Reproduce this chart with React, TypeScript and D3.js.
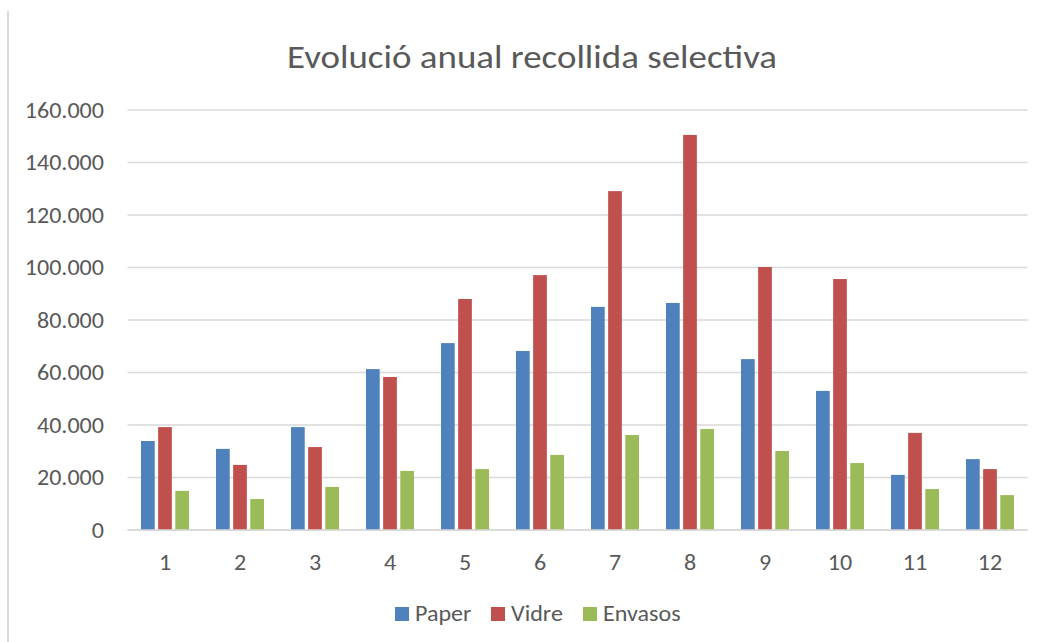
import React from "react";
import * as d3 from "d3";

const months = ["1", "2", "3", "4", "5", "6", "7", "8", "9", "10", "11", "12"];
const seriesNames = ["Paper", "Vidre", "Envasos"];
const paper = [33900, 30900, 39200, 61300, 71200, 68200, 85000, 86500, 65100, 53000, 21000, 27000];
const vidre = [39200, 24800, 31600, 58300, 88000, 97100, 129100, 150500, 100200, 95600, 37000, 23200];
const envasos = [14900, 11800, 16400, 22500, 23200, 28600, 36200, 38500, 30100, 25500, 15600, 13300];
const yTicks = [0, 20000, 40000, 60000, 80000, 100000, 120000, 140000, 160000];
const colors = ["#4f81bd", "#c0504d", "#9bbb59"];
const title = "Evolució anual recollida selectiva";

const W = 1046;
const H = 642;
const FONT = "Carlito, Calibri, 'Liberation Sans Narrow', 'Liberation Sans', sans-serif";
const TEXT = "#595959";
const SX = 1.12;

function T(props: { x: number; y: number; size: number; anchor?: string; children: React.ReactNode; dy?: string }) {
  return (
    <text
      transform={`translate(${props.x},${props.y}) scale(${SX},1)`}
      dy={props.dy}
      textAnchor={props.anchor || "start"}
      fontSize={props.size}
      fill={TEXT}
    >
      {props.children}
    </text>
  );
}

export default function App() {
  const values = [paper, vidre, envasos];
  const x0 = d3.scaleBand<string>().domain(months).range([127.5, 1027.5]).paddingInner(0.36).paddingOuter(0.18);
  const x1 = d3.scaleBand<string>().domain(seriesNames).range([0, x0.bandwidth()]).paddingInner(0.2);
  const y = d3.scaleLinear().domain([0, 160000]).range([530, 110]);
  const loc = d3.formatLocale({ decimal: ",", thousands: ".", grouping: [3], currency: ["", "€"] });
  const fmt = loc.format(",");

  const legendX = [395, 491, 583];

  return (
    <svg width={W} height={H} style={{ position: "absolute", left: 0, top: 0, background: "#fff" }} fontFamily={FONT}>
      <rect x={0} y={0} width={W} height={H} fill="#fff" />
      <line x1={8} x2={8} y1={11} y2={H} stroke="#d9d9d9" strokeWidth={2} />
      <T x={532} y={68} size={33} anchor="middle">{title}</T>
      {yTicks.map((t) => (
        <g key={t}>
          <line x1={127.5} x2={1027.5} y1={y(t)} y2={y(t)} stroke="#d9d9d9" strokeWidth={1.5} />
          <T x={104} y={y(t)} dy="0.35em" anchor="end" size={21.5}>{fmt(t)}</T>
        </g>
      ))}
      {months.map((m, i) => (
        <g key={m} transform={`translate(${x0(m)},0)`}>
          {seriesNames.map((s, j) => (
            <rect key={s} x={x1(s)} y={y(values[j][i])} width={x1.bandwidth()} height={y(0) - y(values[j][i])} fill={colors[j]} />
          ))}
        </g>
      ))}
      <line x1={127.5} x2={1027.5} y1={y(0)} y2={y(0)} stroke="#d9d9d9" strokeWidth={1.5} />
      {months.map((m) => (
        <T key={m} x={(x0(m) as number) + x0.bandwidth() / 2} y={569.5} anchor="middle" size={21.5}>{m}</T>
      ))}
      {seriesNames.map((s, j) => (
        <g key={s}>
          <rect x={legendX[j]} y={607} width={14} height={14} fill={colors[j]} />
          <T x={legendX[j] + 20} y={621} size={21.5}>{s}</T>
        </g>
      ))}
    </svg>
  );
}
